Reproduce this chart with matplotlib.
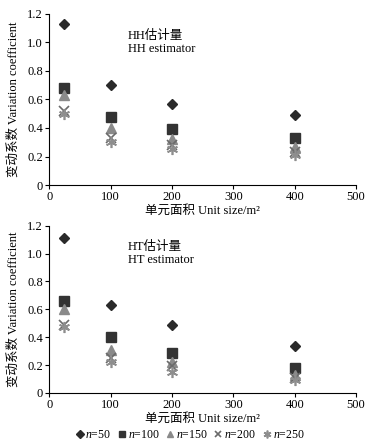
import numpy as np
import matplotlib
matplotlib.use("Agg")
import matplotlib.pyplot as plt
from matplotlib.lines import Line2D

plt.rcParams['font.family'] = ['Liberation Serif', 'Noto Sans CJK SC']
plt.rcParams['font.size'] = 9
plt.rcParams['mathtext.fontset'] = 'custom'
plt.rcParams['mathtext.it'] = 'Liberation Serif:italic'
plt.rcParams['mathtext.rm'] = 'Liberation Serif'

# Einheitsflaeche in m^2
unit_size = [25, 100, 200, 400]
labels_n = ["$n$=50", "$n$=100", "$n$=150", "$n$=200", "$n$=250"]

# HH Schaetzer
hh_n50 = [1.13, 0.70, 0.57, 0.49]
hh_n100 = [0.68, 0.48, 0.39, 0.33]
hh_n150 = [0.63, 0.40, 0.32, 0.27]
hh_n200 = [0.52, 0.33, 0.28, 0.23]
hh_n250 = [0.50, 0.30, 0.25, 0.21]

# HT Schaetzer
ht_n50 = [1.11, 0.63, 0.49, 0.34]
ht_n100 = [0.66, 0.40, 0.29, 0.18]
ht_n150 = [0.60, 0.31, 0.22, 0.13]
ht_n200 = [0.49, 0.25, 0.19, 0.11]
ht_n250 = [0.47, 0.22, 0.15, 0.09]

styles = [
    dict(marker='D', color='#2a2a2a', ms=5.5),
    dict(marker='s', color='#333333', ms=7),
    dict(marker='^', color='#8a8a8a', ms=7),
    dict(marker='x', color='#6a6a6a', ms=7, mew=1.2),
    dict(marker=(6, 2, 0), color='#8e8e8e', ms=8, mew=1.2),
]

fig = plt.figure(figsize=(3.78, 4.48), dpi=100)
ax1 = fig.add_axes([0.130, 0.587, 0.812, 0.382])
ax2 = fig.add_axes([0.130, 0.123, 0.812, 0.373])


def draw(ax, series, title):
    for vals, st in zip(series, styles):
        ax.plot(unit_size, vals, linestyle='none', **st)
    ax.set_xlim(0, 500)
    ax.set_ylim(0, 1.2)
    ax.set_xticks([0, 100, 200, 300, 400, 500])
    ax.set_yticks([0, 0.2, 0.4, 0.6, 0.8, 1.0, 1.2])
    ax.set_yticklabels(["0", "0.2", "0.4", "0.6", "0.8", "1.0", "1.2"])
    ax.spines['top'].set_visible(False)
    ax.spines['right'].set_visible(False)
    ax.tick_params(direction='out', length=3, width=0.8, labelsize=9, pad=1.5)
    ax.set_xlabel("单元面积 Unit size/m²", fontsize=9, labelpad=1)
    ax.set_ylabel("变动系数 Variation coefficient", fontsize=9, labelpad=5)
    ax.text(128, 1.09, title, fontsize=9, va='top', ha='left', linespacing=1.1)


draw(ax1, [hh_n50, hh_n100, hh_n150, hh_n200, hh_n250], "HH估计量\nHH estimator")
draw(ax2, [ht_n50, ht_n100, ht_n150, ht_n200, ht_n250], "HT估计量\nHT estimator")

handles = []
for st, lab in zip(styles, labels_n):
    s = dict(st)
    s['ms'] = s['ms'] * 0.7
    handles.append(Line2D([], [], linestyle='none', label=lab, **s))
fig.legend(handles=handles, loc='center', bbox_to_anchor=(0.5, 0.029), ncol=5,
           frameon=False, fontsize=8.5, handletextpad=0.0, columnspacing=0.4,
           handlelength=1.0)

fig.savefig("out.png", dpi=100)
